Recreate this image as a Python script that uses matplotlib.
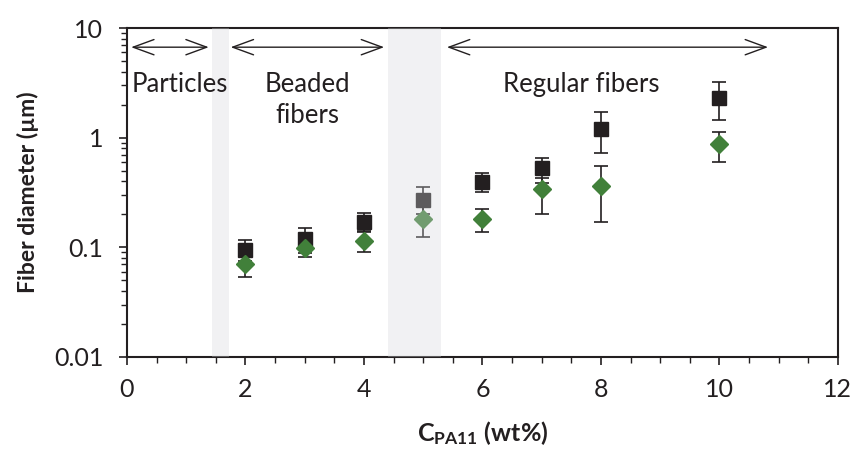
import matplotlib
matplotlib.use('Agg')
import matplotlib.pyplot as plt
from matplotlib.ticker import MultipleLocator, LogLocator, FixedFormatter, FixedLocator
import numpy as np

font = 'Lato'
plt.rcParams['font.family'] = [font, 'DejaVu Sans']
plt.rcParams['mathtext.fontset'] = 'custom'
plt.rcParams['mathtext.rm'] = font
plt.rcParams['mathtext.bf'] = font + ':bold'

# data
conc = [2, 3, 4, 5, 6, 7, 8, 10]
sq_val = [0.094, 0.118, 0.170, 0.270, 0.395, 0.53, 1.21, 2.32]
sq_lo = [0.075, 0.088, 0.139, 0.20, 0.32, 0.39, 0.72, 1.45]
sq_hi = [0.116, 0.150, 0.205, 0.357, 0.48, 0.65, 1.72, 3.24]
di_val = [0.070, 0.098, 0.115, 0.180, 0.182, 0.339, 0.366, 0.87]
di_lo = [0.054, 0.081, 0.091, 0.125, 0.139, 0.200, 0.170, 0.60]
di_hi = [0.085, 0.112, 0.140, 0.240, 0.224, 0.43, 0.555, 1.12]

spans = [(1.43, 1.72), (4.40, 5.30)]
regions = [(0.07, 1.38, 'Particles', 0.9),
           (1.75, 4.34, 'Beaded\nfibers', 3.04),
           (5.40, 10.82, 'Regular fibers', 7.66)]

fig = plt.figure(figsize=(8.54, 4.55), dpi=100)
ax = fig.add_axes([0.1487, 0.2154, 0.8325, 0.7228])

sq_err = [np.array(sq_val) - np.array(sq_lo), np.array(sq_hi) - np.array(sq_val)]
di_err = [np.array(di_val) - np.array(di_lo), np.array(di_hi) - np.array(di_val)]

ax.errorbar(conc, sq_val, yerr=sq_err, fmt='s', color='#231f20', ms=10.5,
            ecolor='#231f20', elinewidth=1.2, capsize=5, capthick=1.2, zorder=3)
ax.errorbar(conc, di_val, yerr=di_err, fmt='D', color='#41803a', ms=9.5,
            mec='#41803a', ecolor='#231f20', elinewidth=1.2, capsize=5,
            capthick=1.2, zorder=4)

for a, b in spans:
    ax.axvspan(a, b, color='#d5d7dc', alpha=0.33, lw=0, zorder=5)

arrow_y = 6.7
for a, b, label, xc in regions:
    ax.annotate('', xy=(a, arrow_y), xytext=(b, arrow_y),
                arrowprops=dict(arrowstyle='<->,head_length=1.5,head_width=0.55',
                                color='#231f20', lw=1.0, shrinkA=0, shrinkB=0),
                zorder=6)
    ax.text(xc, 3.95, label, ha='center', va='top', fontsize=18.5,
            color='#231f20', linespacing=1.3, zorder=6)

ax.set_yscale('log')
ax.set_ylim(0.01, 10)
ax.set_xlim(0, 12)
ax.xaxis.set_major_locator(MultipleLocator(2))
ax.xaxis.set_minor_locator(MultipleLocator(0.5))
ax.yaxis.set_major_locator(FixedLocator([0.01, 0.1, 1, 10]))
ax.yaxis.set_major_formatter(FixedFormatter(['0.01', '0.1', '1', '10']))
ax.yaxis.set_minor_locator(LogLocator(base=10, subs=np.arange(2, 10)))

ax.tick_params(axis='both', which='major', direction='out', length=6,
               width=1.2, labelsize=18, colors='#231f20', pad=9)
ax.tick_params(axis='y', which='major', pad=11)
ax.tick_params(axis='both', which='minor', direction='out', length=4,
               width=1.0, colors='#231f20')
ax.tick_params(axis='y', which='minor', labelleft=False)

for s in ax.spines.values():
    s.set_linewidth(1.5)
    s.set_color('#231f20')

ax.set_ylabel('Fiber diameter (µm)', fontsize=16.5, fontweight='bold',
              color='#231f20', labelpad=11)
ax.set_xlabel(r'C$\mathbf{_{PA11}}$ (wt%)', fontsize=18, fontweight='bold',
              color='#231f20', labelpad=13)

fig.savefig('out.png', dpi=100)
